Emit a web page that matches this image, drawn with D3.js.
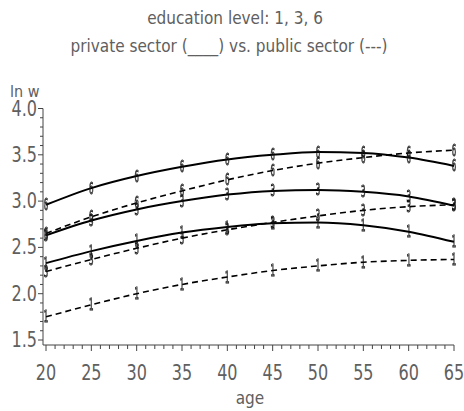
<!DOCTYPE html>
<html><head><meta charset="utf-8">
<script src="https://cdn.jsdelivr.net/npm/d3@7"></script>
<style>
body{margin:0;background:#fff;}
text{font-family:"DejaVu Sans Condensed","DejaVu Sans",sans-serif;}
</style></head>
<body><svg id="c" width="464" height="411"></svg>
<script>
const ages = [20,25,30,35,40,45,50,55,60,65];
const private1 = [2.33,2.46,2.57,2.66,2.72,2.76,2.77,2.74,2.67,2.56];
const private3 = [2.63,2.79,2.91,3.00,3.07,3.11,3.12,3.10,3.05,2.95];
const private6 = [2.96,3.14,3.27,3.37,3.45,3.50,3.53,3.52,3.47,3.38];
const public1 = [1.75,1.88,2.00,2.10,2.18,2.25,2.30,2.34,2.36,2.37];
const public3 = [2.24,2.37,2.49,2.60,2.69,2.77,2.84,2.90,2.94,2.96];
const public6 = [2.65,2.83,2.98,3.11,3.23,3.33,3.41,3.47,3.52,3.55];
const xTicks = [20,25,30,35,40,45,50,55,60,65];
const yTicks = [1.5,2.0,2.5,3.0,3.5,4.0];
const titleLines = ["education level: 1, 3, 6","private sector (____) vs. public sector (---)"];

const series = [
  {label:"6", vals:private6, dashed:false},
  {label:"3", vals:private3, dashed:false},
  {label:"1", vals:private1, dashed:false},
  {label:"6", vals:public6, dashed:true},
  {label:"3", vals:public3, dashed:true},
  {label:"1", vals:public1, dashed:true}
];

const svg = d3.select("#c");
const x = d3.scaleLinear().domain([20,65]).range([46,454]);
const y = d3.scaleLinear().domain([1.5,4.0]).range([340,108.5]);
const gray = "#606060";

// title
svg.append("text").attr("x",235).attr("y",24).attr("text-anchor","middle")
  .attr("font-size",17).attr("fill",gray).text(titleLines[0]);
svg.append("text").attr("x",229).attr("y",52).attr("text-anchor","middle")
  .attr("font-size",17).attr("fill",gray).text(titleLines[1]);
svg.append("text").attr("x",10).attr("y",97).attr("font-size",16).attr("fill",gray).text("ln w");
svg.append("text").attr("x",250).attr("y",404).attr("text-anchor","middle").attr("font-size",17).attr("fill",gray).text("age");

// axes lines
const axisColor = "#444";
svg.append("line").attr("x1",43).attr("x2",43).attr("y1",y(4.0)).attr("y2",345).attr("stroke",axisColor).attr("stroke-width",1);
svg.append("line").attr("x1",43).attr("x2",x(65)).attr("y1",345).attr("y2",345).attr("stroke",axisColor).attr("stroke-width",1);

// y ticks
const yMinor = d3.range(15,41).map(d=>d/10);
svg.selectAll(".ym").data(yMinor).enter().append("line")
  .attr("x1",43).attr("x2",d=> yTicks.some(t=>Math.abs(t-d)<1e-6)?38:40)
  .attr("y1",d=>y(d)).attr("y2",d=>y(d)).attr("stroke",axisColor);
svg.selectAll(".yl").data(yTicks).enter().append("text")
  .attr("transform",d=>`translate(37,${y(d)+7}) scale(0.85,1)`)
  .attr("text-anchor","end").attr("font-size",21)
  .attr("fill",gray).text(d=>d.toFixed(1));

// x ticks
const xMinor = d3.range(20,66);
svg.selectAll(".xm").data(xMinor).enter().append("line")
  .attr("x1",d=>x(d)).attr("x2",d=>x(d)).attr("y1",345)
  .attr("y2",d=> d%5===0?351:349).attr("stroke",axisColor);
svg.selectAll(".xl").data(xTicks).enter().append("text")
  .attr("transform",d=>`translate(${x(d)},380) scale(0.85,1)`)
  .attr("text-anchor","middle").attr("font-size",21)
  .attr("fill",gray).text(d=>d);

// lines
const line = d3.line().x((d,i)=>x(ages[i])).y(d=>y(d)).curve(d3.curveMonotoneX);
series.forEach(s=>{
  svg.append("path").attr("d",line(s.vals)).attr("fill","none").attr("stroke","#000")
    .attr("stroke-width",s.dashed?1.6:2).attr("stroke-dasharray",s.dashed?"6,4":null);
});
const mk = svg.append("g").style("opacity",0.99);
series.forEach(s=>{
  mk.selectAll(null).data(s.vals).enter().append("text")
    .attr("transform",(d,i)=>`translate(${x(ages[i])},${y(d)+5.5}) scale(0.6,1.2)`)
    .attr("text-anchor","middle").attr("font-size",13).attr("fill","none")
    .attr("stroke","#111").attr("stroke-width",0.8).text(s.label);
});
</script></body></html>
